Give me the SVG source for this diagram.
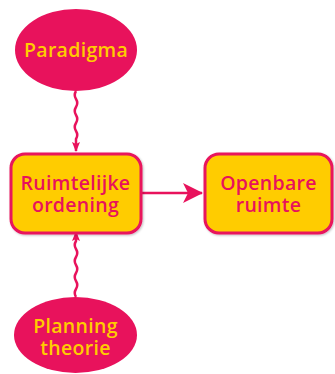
<svg xmlns="http://www.w3.org/2000/svg" width="335" height="374" viewBox="0 0 335 374">
  <style>
    .oval { fill: #E8125C; }
    .box { fill: #FFCC00; stroke: #E8125C; stroke-width: 3; }
    .lbl { font-family: "Open Sans", "DejaVu Sans", sans-serif; font-weight: 600; font-size: 19.5px; text-anchor: middle; letter-spacing: 0.3px; }
    .on-oval { fill: #FFCC00; }
    .on-box { fill: #E8125C; }
    .link { fill: none; stroke: #E8125C; stroke-width: 2.5; }
  </style>
  <defs>
    <filter id="shadow" x="-10%" y="-10%" width="120%" height="120%">
      <feDropShadow dx="1" dy="1" stdDeviation="1.2" flood-color="#000" flood-opacity="0.25"/>
    </filter>
    <marker id="head-small" viewBox="0 0 10 10" refX="9" refY="5" markerWidth="10" markerHeight="10" markerUnits="userSpaceOnUse" orient="auto">
      <path d="M0 1 L10 5 L0 9 L2 5 Z" fill="#E8125C"/>
    </marker>
    <marker id="head-big" viewBox="0 0 20 20" refX="19" refY="10" markerWidth="20" markerHeight="20" markerUnits="userSpaceOnUse" orient="auto">
      <path d="M0 0 L20 10 L0 20 L5 10 Z" fill="#E8125C"/>
    </marker>
  </defs>

  <g id="connectors">
    <!-- Paradigma down to Ruimtelijke ordening (wavy) -->
    <path class="link" marker-end="url(#head-small)" d="M76 91 q-2.5 4 0 8 t0 8 t0 8 t0 8 t0 8 t0 8 l0 4 l0 8"/>
    <!-- Planning theorie up to Ruimtelijke ordening (wavy) -->
    <path class="link" marker-end="url(#head-small)" d="M76 297 q-2.5 -4 0 -8 t0 -8 t0 -8 t0 -8 t0 -8 t0 -8 t0 -8 l0 -1 l0 -8"/>
    <!-- Ruimtelijke ordening to Openbare ruimte -->
    <path class="link" marker-end="url(#head-big)" d="M142 193 L202 193"/>
  </g>

  <g id="paradigma">
    <ellipse class="oval" cx="76" cy="50" rx="61" ry="41"/>
    <text class="lbl on-oval" x="76" y="57">Paradigma</text>
  </g>

  <g id="ruimtelijke-ordening">
    <rect class="box" x="11" y="154" width="130" height="79" rx="14" filter="url(#shadow)"/>
    <text class="lbl on-box" x="75.5" y="190">Ruimtelijke</text>
    <text class="lbl on-box" x="75.5" y="212">ordening</text>
  </g>

  <g id="openbare-ruimte">
    <rect class="box" x="205" y="154" width="127" height="79" rx="14" filter="url(#shadow)"/>
    <text class="lbl on-box" x="268.5" y="190">Openbare</text>
    <text class="lbl on-box" x="268.5" y="212">ruimte</text>
  </g>

  <g id="planning-theorie">
    <ellipse class="oval" cx="75.5" cy="335" rx="61.5" ry="38"/>
    <text class="lbl on-oval" x="75.5" y="333">Planning</text>
    <text class="lbl on-oval" x="75.5" y="355">theorie</text>
  </g>
</svg>
